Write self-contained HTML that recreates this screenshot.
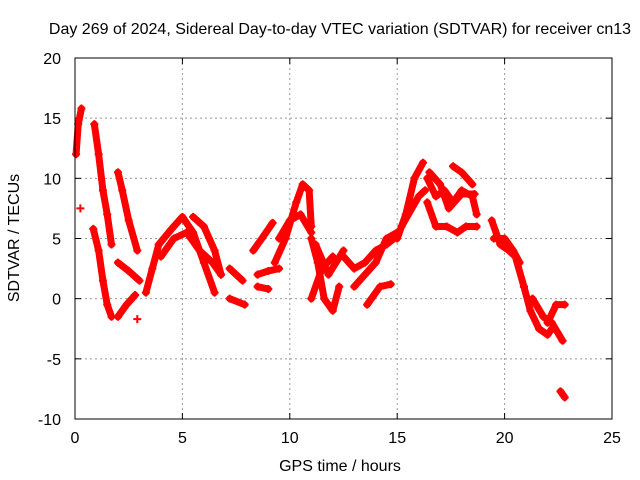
<!DOCTYPE html>
<html><head><meta charset="utf-8"><style>
body{margin:0;background:#fff}
svg{display:block;font-family:"Liberation Sans",sans-serif;font-size:16px}
</style></head><body>
<svg id="chart" width="640" height="480">
<text x="340" y="34" text-anchor="middle">Day 269 of 2024, Sidereal Day-to-day VTEC variation (SDTVAR) for receiver cn13</text>
<text x="340" y="471" text-anchor="middle">GPS time / hours</text>
<text transform="translate(19,238) rotate(-90)" text-anchor="middle">SDTVAR / TECUs</text>
<g id="grid"></g><g id="marks"></g>
<rect x="75" y="58" width="537" height="361" fill="none" stroke="#000" stroke-width="1"/>
</svg>
<script>
const xTicks=[0,5,10,15,20,25];
const yTicks=[-10,-5,0,5,10,15,20];
const tracks=[
[[0.05,12],[0.15,14.5],[0.3,15.8]],
[[0.9,14.5],[1.1,12],[1.3,9],[1.5,7],[1.7,4.5]],
[[0.85,5.8],[1.1,4],[1.3,1.5],[1.5,-0.5],[1.7,-1.5]],
[[2.0,10.5],[2.2,9],[2.5,6.5],[2.9,4]],
[[2.0,3],[2.5,2.3],[3.0,1.5]],
[[2.0,-1.5],[2.4,-0.5],[2.8,0.3]],
[[3.3,0.5],[3.6,2.5],[3.9,4.5]],
[[3.9,4.5],[4.5,5.8],[5.0,6.8],[5.5,5.5],[6.0,3],[6.5,0.5]],
[[4.0,3.5],[4.6,5],[5.2,5.5],[5.8,4],[6.4,3],[6.8,2]],
[[5.5,6.8],[6,6],[6.5,4],[6.8,2]],
[[7.2,2.5],[7.8,1.5]],
[[7.2,0],[7.9,-0.5]],
[[8.3,4],[8.7,5],[9.2,6.3]],
[[8.5,2],[9,2.3],[9.5,2.5]],
[[8.5,1],[9,0.8]],
[[9.3,3],[9.8,5],[10.3,8],[10.6,9.5],[10.9,9],[11,6]],
[[9.5,5],[10,6.5],[10.5,7],[11,5.5]],
[[11.0,5],[11.3,3],[11.6,0],[12,-1],[12.3,1]],
[[11.2,4.5],[11.8,2],[12.5,4]],
[[11,0],[11.5,2.5],[12,3.5]],
[[12.5,3.5],[13,2.5],[13.5,3],[14,4],[14.5,4.5],[15,5.2]],
[[13,1],[13.5,2],[14,3],[14.5,5],[15,5.5]],
[[13.6,-0.5],[14.2,1],[14.7,1.2]],
[[15,5],[15.4,7],[15.8,10],[16.2,11.3]],
[[15.2,6],[16.0,8.5],[16.3,9]],
[[16.4,10],[16.8,8.5],[17.2,9],[17.6,8],[18,9],[18.5,8.5],[18.7,7]],
[[16.5,10.5],[17,9.5],[17.4,7.5],[18,8.7],[18.6,8.7]],
[[16.4,8],[16.8,6],[17.3,6],[17.8,5.5],[18.2,6],[18.7,6]],
[[17.6,11],[18.0,10.5],[18.5,9.5]],
[[19.4,6.5],[19.8,4.5],[20.2,4],[20.5,3.5],[20.9,1]],
[[19.5,5],[20,5],[20.4,4],[20.7,3]],
[[20.9,1],[21.2,-1],[21.6,-2.5],[22,-3],[22.2,-2.5]],
[[21.3,0],[21.8,-1.5],[22.2,-2],[22.7,-3.5]],
[[22.0,-2],[22.4,-0.5],[22.8,-0.5]],
[[22.6,-7.7],[22.8,-8.2]],
[[0.25,7.5]],
[[2.9,-1.7]]
];
const X0=75,X1=612,Y0=419,Y1=58;
function xs(t){return X0+(t-0)/25*(X1-X0);}
function ys(v){return Y0-(v+10)/30*(Y0-Y1);}
const NS="http://www.w3.org/2000/svg";
const grid=document.getElementById('grid'),marks=document.getElementById('marks');
function mk(tag,at,parent){const e=document.createElementNS(NS,tag);for(const k in at)e.setAttribute(k,at[k]);parent.appendChild(e);return e;}
xTicks.forEach(t=>{const x=xs(t);
 if(t>0&&t<25){const l=mk('line',{x1:x,x2:x,y1:Y1,y2:Y0,stroke:'#999','stroke-dasharray':'2,3'},grid);
 
 }
 mk('line',{x1:x,x2:x,y1:Y0,y2:Y0-6,stroke:'#000'},grid);
 mk('line',{x1:x,x2:x,y1:Y1,y2:Y1+6,stroke:'#000'},grid);
 const tx=mk('text',{x:x,y:443,'text-anchor':'middle'},grid);tx.textContent=t;
 
 
});
yTicks.forEach(v=>{const y=ys(v);
 if(v>-10&&v<20){const l=mk('line',{x1:X0,x2:X1,y1:y,y2:y,stroke:'#999','stroke-dasharray':'2,3'},grid);
 
 }
 mk('line',{x1:X0,x2:X0+6,y1:y,y2:y,stroke:'#000'},grid);
 mk('line',{x1:X1,x2:X1-6,y1:y,y2:y,stroke:'#000'},grid);
 const tx=mk('text',{x:61,y:y+6,'text-anchor':'end'},grid);tx.textContent=v;
 
 
});
tracks.forEach(tr=>{
 const pts=tr.map(p=>xs(p[0])+','+ys(p[1])).join(' ');
 if(tr.length>1){const pl=mk('polyline',{points:pts,fill:'none',stroke:'#f00','stroke-width':7,'stroke-linejoin':'round','stroke-linecap':'round'},marks);
 
 }
 tr.forEach(p=>{const x=xs(p[0]),y=ys(p[1]);
  const m=mk('path',{d:`M${x-4},${y}H${x+4}M${x},${y-4}V${y+4}`,stroke:'#f00','stroke-width':2},marks);
  
  });
});
</script>
</body></html>
